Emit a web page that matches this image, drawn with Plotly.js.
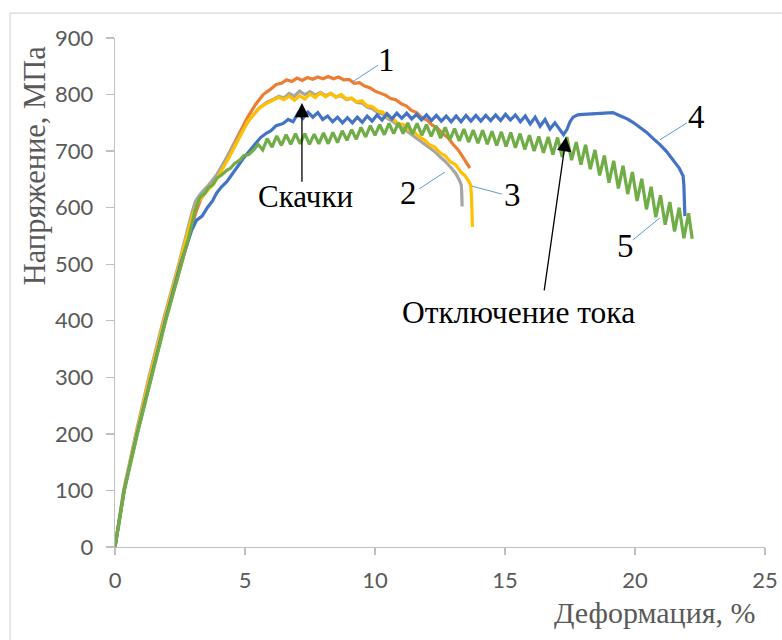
<!DOCTYPE html>
<html>
<head>
<meta charset="utf-8">
<script src="https://cdn.plot.ly/plotly-3.0.1.min.js"></script>
<style>html,body{margin:0;padding:0;background:#fff;}#chart{width:782px;height:640px;}</style>
</head>
<body>
<div id="chart"></div>
<script>
// Curve 1 (orange): [strain %, stress MPa]
const curve1 = [[0,0],[0.35,100],[0.83,200],[1.37,300],[1.93,400],[2.55,500],[3.1,590],[3.3,615],[3.6,635],[3.9,655],[4.2,680],[4.5,707],[4.8,735],[5.1,760],[5.4,782],[5.7,800],[6.0,810],[6.2,818],[6.4,820],[6.6,826],[6.8,823],[7.0,829],[7.2,825],[7.4,830],[7.6,827],[7.8,831],[8.0,828],[8.2,832],[8.4,828],[8.6,831],[8.8,826],[9.0,827],[9.2,820],[9.4,821],[9.6,815],[9.8,812],[10.0,806],[10.2,802],[10.4,799],[10.6,793],[10.8,791],[11.0,784],[11.2,780],[11.4,772],[11.6,768],[11.8,759],[12.0,755],[12.2,746],[12.4,741],[12.6,731],[12.8,724],[13.0,712],[13.2,702],[13.4,688],[13.55,678],[13.65,670]];
// Curve 2 (gray)
const curve2 = [[0,0],[0.33,100],[0.8,200],[1.3,300],[1.85,400],[2.45,500],[2.95,590],[3.1,612],[3.3,625],[3.6,640],[3.91,658],[4.2,680],[4.55,708],[4.85,733],[5.19,757],[5.5,774],[5.83,786],[6.1,792],[6.3,797],[6.5,794],[6.7,802],[6.9,797],[7.1,806],[7.3,800],[7.5,805],[7.7,799],[7.9,804],[8.1,798],[8.3,802],[8.5,796],[8.7,798],[8.9,791],[9.1,793],[9.3,786],[9.5,785],[9.7,778],[9.9,775],[10.1,768],[10.3,765],[10.5,757],[10.7,752],[10.9,745],[11.1,740],[11.3,733],[11.5,726],[11.7,720],[11.9,713],[12.1,706],[12.3,699],[12.5,690],[12.7,682],[12.9,672],[13.1,661],[13.25,648],[13.32,640],[13.34,622],[13.35,602]];
// Curve 3 (yellow)
const curve3 = [[0,0],[0.34,100],[0.82,200],[1.33,300],[1.88,400],[2.48,500],[3.0,590],[3.2,610],[3.5,628],[3.8,642],[4.1,665],[4.4,690],[4.8,725],[5.1,752],[5.4,768],[5.6,778],[5.9,786],[6.1,790],[6.3,795],[6.5,791],[6.7,797],[6.9,790],[7.1,798],[7.3,792],[7.5,801],[7.7,795],[7.9,803],[8.1,796],[8.3,802],[8.5,795],[8.7,800],[8.9,792],[9.1,794],[9.3,787],[9.5,789],[9.7,780],[9.9,779],[10.1,771],[10.3,769],[10.5,760],[10.7,757],[10.9,748],[11.1,747],[11.3,737],[11.5,734],[11.7,725],[11.9,720],[12.1,711],[12.3,707],[12.5,697],[12.7,692],[12.9,681],[13.1,676],[13.3,663],[13.45,657],[13.6,647],[13.68,640],[13.71,620],[13.73,590],[13.75,566]];
// Curve 4 (blue)
const curve4 = [[0,0],[0.35,100],[0.85,200],[1.38,300],[1.93,400],[2.52,500],[2.95,560],[3.14,578],[3.35,585],[3.55,600],[3.75,612],[3.91,626],[4.1,637],[4.3,646],[4.55,661],[4.75,675],[4.95,688],[5.19,702],[5.4,713],[5.6,724],[5.83,732],[6.0,736],[6.2,745],[6.47,749],[6.66,756],[6.85,752],[7.04,767],[7.23,758],[7.42,769],[7.61,760],[7.8,768],[7.99,756],[8.18,762],[8.37,752],[8.56,760],[8.75,750],[8.94,759],[9.13,750],[9.32,760],[9.51,751],[9.7,762],[9.89,753],[10.08,764],[10.27,755],[10.46,766],[10.65,757],[10.84,767],[11.03,758],[11.22,767],[11.41,757],[11.6,765],[11.79,755],[11.98,764],[12.17,754],[12.36,763],[12.55,753],[12.74,762],[12.93,752],[13.12,762],[13.31,752],[13.5,763],[13.69,753],[13.88,763],[14.07,753],[14.26,763],[14.45,754],[14.64,764],[14.83,754],[15.02,765],[15.21,755],[15.4,764],[15.59,752],[15.78,762],[15.97,748],[16.16,760],[16.35,744],[16.54,756],[16.73,739],[16.92,750],[17.11,737],[17.25,729],[17.38,738],[17.5,752],[17.62,760],[17.8,764],[18.0,765],[18.3,766],[18.6,767],[18.9,768],[19.15,768],[19.4,763],[19.7,757],[19.95,750],[20.2,742],[20.45,733],[20.7,722],[20.95,712],[21.2,700],[21.45,686],[21.7,670],[21.85,656],[21.88,640],[21.9,610],[21.92,585]];
// Curve 5 (green)
const curve5 = [[0,0],[0.36,100],[0.86,200],[1.4,300],[1.95,400],[2.55,500],[2.85,550],[3.08,595],[3.27,619],[3.45,625],[3.6,636],[3.75,640],[3.91,652],[4.1,658],[4.3,666],[4.45,670],[4.6,678],[4.8,684],[4.95,692],[5.15,694],[5.35,703],[5.5,712],[5.68,702],[5.86,722],[6.04,707],[6.22,727],[6.4,710],[6.58,729],[6.76,712],[6.94,731],[7.12,713],[7.3,731],[7.48,712],[7.66,730],[7.84,713],[8.02,732],[8.2,713],[8.38,733],[8.56,715],[8.74,736],[8.92,719],[9.1,738],[9.28,721],[9.46,742],[9.64,725],[9.82,745],[10.0,728],[10.18,747],[10.36,729],[10.54,749],[10.72,731],[10.9,750],[11.08,731],[11.26,750],[11.44,730],[11.62,749],[11.8,728],[11.98,747],[12.16,726],[12.34,745],[12.52,723],[12.7,742],[12.88,720],[13.06,740],[13.24,718],[13.42,739],[13.6,716],[13.78,737],[13.96,714],[14.14,737],[14.32,712],[14.5,735],[14.68,710],[14.86,734],[15.04,708],[15.22,733],[15.4,706],[15.58,731],[15.76,703],[15.94,728],[16.12,700],[16.3,726],[16.48,697],[16.66,725],[16.84,694],[17.02,724],[17.2,690],[17.38,725],[17.56,684],[17.74,716],[17.92,676],[18.1,711],[18.28,668],[18.46,702],[18.64,657],[18.82,692],[19.0,644],[19.18,683],[19.36,634],[19.54,674],[19.72,624],[19.9,663],[20.08,612],[20.26,651],[20.44,597],[20.62,637],[20.8,583],[20.98,622],[21.16,570],[21.34,610],[21.52,558],[21.7,600],[21.88,546],[22.06,590],[22.2,545]];

const curves = [curve1, curve2, curve3, curve4, curve5];
const curveColors = ['#ED7D31', '#A5A5A5', '#FFC000', '#4472C4', '#70AD47'];
const curveLabels = ['1', '2', '3', '4', '5'];
const xTicks = [0, 5, 10, 15, 20, 25];
const yTicks = [0, 100, 200, 300, 400, 500, 600, 700, 800, 900];

const traces = curves.map((c, i) => ({
  x: c.map(p => p[0]),
  y: c.map(p => p[1]),
  type: 'scatter',
  mode: 'lines',
  name: curveLabels[i],
  line: {color: curveColors[i], width: 3.2},
  hoverinfo: 'skip'
}));

const serif = 'Liberation Serif, Times New Roman, serif';
const axisGray = '#BFBFBF';
const textGray = '#595959';

// numeric labels with leader lines: [text, labelX, labelY, lineX0, lineY0, lineX1, lineY1]
const leaders = [
  ['1', 10.46, 861, 9.12, 822, 10.12, 852],
  ['2', 11.27, 626, 11.69, 633, 12.69, 663],
  ['3', 15.27, 622, 13.73, 638, 14.88, 624],
  ['4', 22.38, 760, 20.96, 720, 22.0, 750],
  ['5', 19.62, 532, 19.92, 543, 20.96, 582]
];

const annotations = leaders.map(l => ({
  x: l[1], y: l[2], xref: 'x', yref: 'y', text: l[0], showarrow: false,
  xanchor: 'center', yanchor: 'middle',
  font: {family: serif, size: 33, color: '#000'}
}));
const shapes = leaders.map(l => ({
  type: 'line', xref: 'x', yref: 'y', x0: l[3], y0: l[4], x1: l[5], y1: l[6],
  line: {color: '#5B9BD5', width: 1}
}));

annotations.push(
  {x: 7.31, y: 619, xref: 'x', yref: 'y', text: 'Скачки', showarrow: false,
   xanchor: 'center', yanchor: 'middle',
   font: {family: serif, size: 31, color: '#000'}},
  {x: 7.19, y: 785, xref: 'x', yref: 'y', ax: 7.19, ay: 643, axref: 'x', ayref: 'y',
   text: '', showarrow: true, arrowhead: 2, arrowsize: 2.2, arrowwidth: 1.3, arrowcolor: '#000'},
  {x: 15.5, y: 414, xref: 'x', yref: 'y', text: 'Отключение тока', showarrow: false,
   xanchor: 'center', yanchor: 'middle',
   font: {family: serif, size: 31.5, color: '#000'}},
  {x: 17.35, y: 725, xref: 'x', yref: 'y', ax: 16.5, ay: 451, axref: 'x', ayref: 'y',
   text: '', showarrow: true, arrowhead: 2, arrowsize: 2.2, arrowwidth: 1.3, arrowcolor: '#000'},
  {x: 0.831, y: -0.128, xref: 'paper', yref: 'paper', text: 'Деформация, %', showarrow: false,
   xanchor: 'center', yanchor: 'middle',
   font: {family: serif, size: 30, color: textGray}},
  {x: -0.123, y: 0.75, xref: 'paper', yref: 'paper', text: 'Напряжение, МПа', showarrow: false,
   xanchor: 'center', yanchor: 'middle',
   textangle: -90, font: {family: serif, size: 30.5, color: textGray}}
);

// chart border
shapes.push({type: 'rect', xref: 'paper', yref: 'paper', x0: -0.1615, x1: 1.1, y0: -0.3, y1: 1.049,
  line: {color: '#D9D9D9', width: 1.3}, fillcolor: 'rgba(0,0,0,0)', layer: 'below'});

const layout = {
  width: 782, height: 640,
  margin: {l: 115, r: 17, t: 38, b: 93},
  paper_bgcolor: '#fff', plot_bgcolor: '#fff',
  showlegend: false,
  xaxis: {
    range: [0, 25], tickvals: xTicks, ticktext: xTicks.map(String),
    showgrid: false, zeroline: false, showline: true, linecolor: axisGray, linewidth: 1.3,
    ticks: 'outside', ticklen: 7, tickcolor: axisGray, tickwidth: 1.3,
    tickfont: {family: 'Lato, sans-serif', size: 22, color: textGray},
    ticklabelstandoff: 6
  },
  yaxis: {
    range: [0, 900], tickvals: yTicks, ticktext: yTicks.map(String),
    showgrid: false, zeroline: false, showline: true, linecolor: axisGray, linewidth: 1.3,
    ticks: 'outside', ticklen: 8, tickcolor: axisGray, tickwidth: 1.3,
    tickfont: {family: 'Lato, sans-serif', size: 22, color: textGray},
    ticklabelstandoff: 8
  },
  annotations: annotations,
  shapes: shapes
};

Plotly.newPlot('chart', traces, layout, {staticPlot: true, displayModeBar: false});
</script>
</body>
</html>
